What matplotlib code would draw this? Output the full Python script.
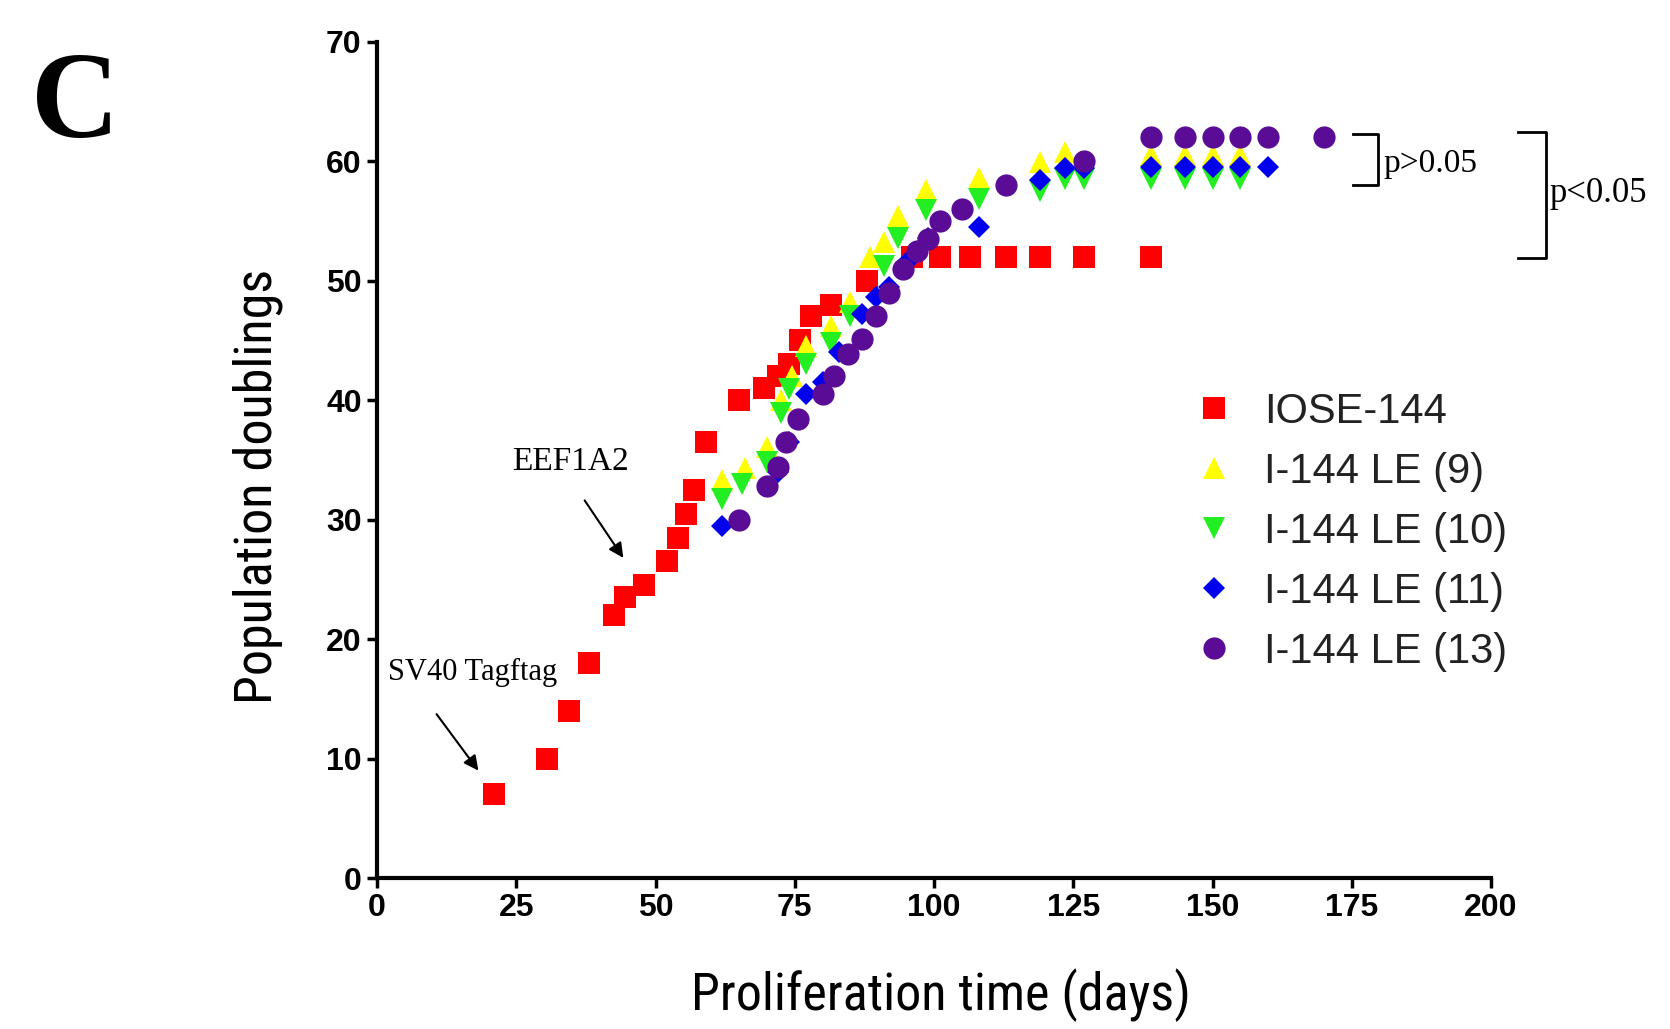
import numpy as np
import matplotlib
matplotlib.use('Agg')
import matplotlib.pyplot as plt
from matplotlib import font_manager

# data (days, population doublings)
iose_days = [21, 30.5, 34.5, 38, 42.5, 44.5, 48, 52, 54, 55.5, 57, 59, 65, 69.5, 72, 74, 76,
             78, 81.5, 88, 96, 101, 106.5, 113, 119, 127, 139]
iose_pd = [7, 10, 14, 18, 22, 23.5, 24.5, 26.5, 28.5, 30.5, 32.5, 36.5, 40, 41, 42, 43, 45,
           47, 48, 50, 52, 52, 52, 52, 52, 52, 52]

le9_days = [62, 66, 70, 72.5, 74.5, 77, 81.5, 85, 88.5, 91, 93.5, 98.5, 108, 119, 123.5,
            139, 145, 150, 155]
le9_pd = [33.3, 34.3, 36.1, 40, 42, 44.5, 46.2, 48.2, 52, 53.2, 55.4, 57.6, 58.6, 59.9, 60.8,
          60.5, 60.5, 60.5, 60.5]

le10_days = [62, 65.5, 70, 72.5, 74, 77, 81.5, 85, 91, 93.5, 98.5, 108, 119, 123.5, 127,
             139, 145, 150, 155]
le10_pd = [31.7, 33, 34.8, 38.9, 40.9, 43, 44.8, 47, 51.2, 53.6, 55.9, 56.8, 57.5, 58.5, 58.5,
           58.5, 58.5, 58.5, 58.5]

le11_days = [62, 72, 74, 77, 80, 83, 87, 89.5, 92, 95, 99, 108, 119, 123.5, 127,
             139, 145, 150, 155, 160]
le11_pd = [29.5, 34, 36.5, 40.5, 41.5, 44, 47.2, 48.6, 49.5, 51.5, 53.6, 54.5, 58.4, 59.4, 59.4,
           59.5, 59.5, 59.5, 59.5, 59.5]

le13_days = [65, 70, 72, 73.5, 75.5, 80, 82, 84.5, 87, 89.5, 92, 94.5, 97, 99, 101, 105, 113,
             127, 139, 145, 150, 155, 160, 170]
le13_pd = [30, 32.8, 34.4, 36.5, 38.4, 40.5, 42, 43.9, 45.1, 47, 49, 51, 52.5, 53.5, 55, 56, 58,
           60, 62, 62, 62, 62, 62, 62]

series = [
    ('IOSE-144', iose_days, iose_pd, 's', '#ff0000', 16),
    ('I-144 LE (9)', le9_days, le9_pd, '^', '#ffff00', 16),
    ('I-144 LE (10)', le10_days, le10_pd, 'v', '#22ee22', 16),
    ('I-144 LE (11)', le11_days, le11_pd, 'D', '#0000ee', 11.5),
    ('I-144 LE (13)', le13_days, le13_pd, 'o', '#5a0c96', 16),
]

# condensed font for the axis titles if there is one, otherwise plain Arial-like
installed = {f.name for f in font_manager.fontManager.ttflist}
label_font, label_size = 'Liberation Sans', 35
for fam in ['Liberation Sans Narrow', 'Roboto Condensed']:
    if fam in installed:
        label_font, label_size = fam, 37.5
        break

W, H = 1670, 1029
fig = plt.figure(figsize=(W / 100, H / 100), dpi=100)
ax = fig.add_axes([377 / W, 1 - 878 / H, (1491 - 377) / W, (878 - 41.7) / H])

for name, x, y, m, c, ms in series:
    ax.plot(x, y, linestyle='none', marker=m, color=c, markersize=ms, markeredgewidth=0,
            label=name, clip_on=False)

ax.set_xlim(0, 200)
ax.set_ylim(0, 70)
ax.set_xticks(np.arange(0, 201, 25))
ax.set_yticks(np.arange(0, 71, 10))
for s in ['top', 'right']:
    ax.spines[s].set_visible(False)
for s in ['left', 'bottom']:
    ax.spines[s].set_linewidth(3)
ax.tick_params(direction='out', length=7, width=2.5, pad=4)
for lab in ax.get_xticklabels() + ax.get_yticklabels():
    lab.set_fontfamily('Liberation Sans')
    lab.set_fontweight('bold')
    lab.set_fontsize(23)

ax.set_xlabel('Proliferation time (days)', fontsize=label_size, family=label_font)
ax.set_ylabel('Population doublings', fontsize=label_size, family=label_font)
ax.xaxis.set_label_coords(0.506, -0.108)
ax.yaxis.set_label_coords(-0.084, 0.468)

leg = ax.legend(loc='upper left', bbox_to_anchor=(1193 / W, 1 - 392 / H),
                bbox_transform=fig.transFigure, frameon=False,
                prop={'family': 'Liberation Sans', 'size': 30},
                handlelength=1.0, handletextpad=0.7, labelspacing=0.48,
                borderpad=0, borderaxespad=0, markerscale=1.0)
for t in leg.get_texts():
    t.set_color('#222222')

# annotations
serif = 'Liberation Serif'
ax.text(34.8, 34.8, 'EEF1A2', fontsize=24, family=serif, ha='center', va='center')
ax.annotate('', xy=(44.5, 26.6), xytext=(37.0, 31.8),
            arrowprops=dict(arrowstyle='-|>', lw=1.5, color='black', mutation_scale=22))
ax.text(17.2, 17.2, 'SV40 Tagftag', fontsize=22, family=serif, ha='center', va='center')
ax.annotate('', xy=(18.5, 8.8), xytext=(10.4, 13.9),
            arrowprops=dict(arrowstyle='-|>', lw=1.5, color='black', mutation_scale=22))

# significance brackets
ax.plot([175.2, 179.8, 179.8, 175.2], [62.3, 62.3, 58.0, 58.0], color='black', lw=2,
        clip_on=False)
ax.text(180.6, 59.8, 'p>0.05', fontsize=24, family=serif, ha='left', va='center')
ax.plot([204.8, 209.9, 209.9, 204.8], [62.4, 62.4, 51.9, 51.9], color='black', lw=2,
        clip_on=False)
ax.text(210.5, 57.3, 'p<0.05', fontsize=25, family=serif, ha='left', va='center')

fig.text(31 / W, 1 - 137 / H, 'C', fontsize=88, family=serif, fontweight='bold',
         ha='left', va='baseline')

fig.savefig('out.png', dpi=100)
